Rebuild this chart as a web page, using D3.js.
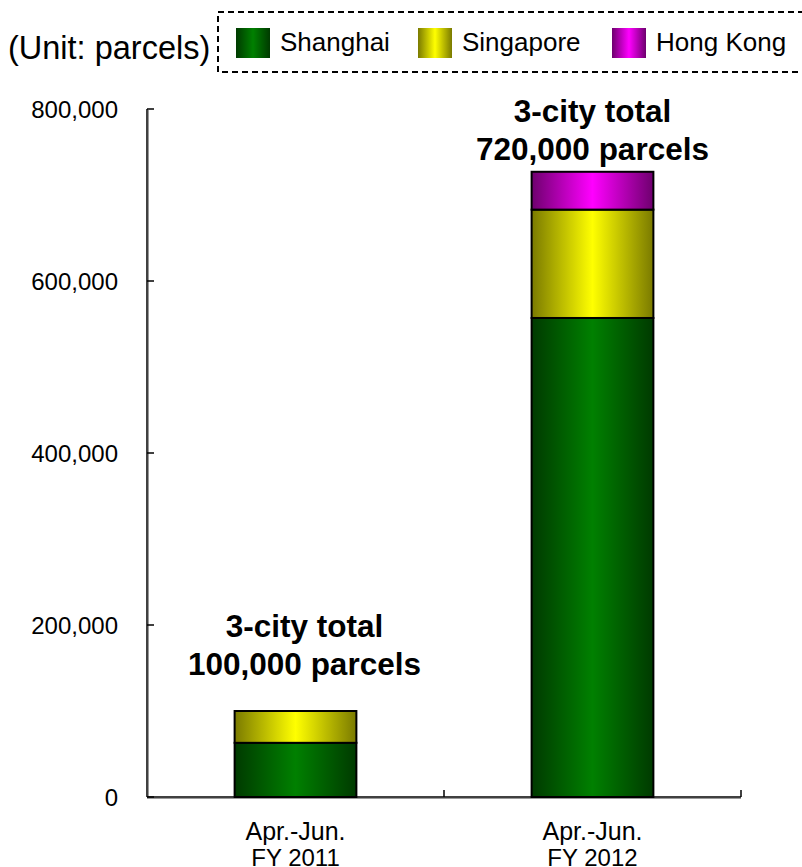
<!DOCTYPE html>
<html><head><meta charset="utf-8">
<script src="https://cdn.jsdelivr.net/npm/d3@7"></script>
<style>
html,body{margin:0;padding:0;background:#fff;}
svg{display:block;font-family:"Liberation Sans",Arial,sans-serif;}
</style></head>
<body><svg id="c" width="802" height="867"></svg>
<script>
const categories = ["FY 2011", "FY 2012"];
const categoryTop = ["Apr.-Jun.", "Apr.-Jun."];
const seriesNames = ["Shanghai", "Singapore", "Hong Kong"];
const shanghai = [63000, 557000];
const singapore = [37000, 126000];
const hongKong = [0, 44000];
const totalText = ["100,000 parcels", "720,000 parcels"];
const yTicks = [0, 200000, 400000, 600000, 800000];

const colors = [
  {mid:"#008000", edge:"#003a00"},
  {mid:"#ffff00", edge:"#7a7a00"},
  {mid:"#ff00ff", edge:"#6e006e"}
];

const svg = d3.select("#c");
const defs = svg.append("defs");
colors.forEach((c,i)=>{
  const g = defs.append("linearGradient").attr("id","g"+i).attr("x1","0%").attr("x2","100%").attr("y1","0%").attr("y2","0%");
  g.append("stop").attr("offset","0%").attr("stop-color",c.edge);
  g.append("stop").attr("offset","50%").attr("stop-color",c.mid);
  g.append("stop").attr("offset","100%").attr("stop-color",c.edge);
});

const x = d3.scaleBand().domain(categories).range([147, 741]).padding(0);
const y = d3.scaleLinear().domain([0, 800000]).range([797, 109]);
const barW = x.bandwidth() * 0.41;

const rows = categories.map((c,i)=>({cat:c, Shanghai:shanghai[i], Singapore:singapore[i], "Hong Kong":hongKong[i]}));
const stack = d3.stack().keys(seriesNames)(rows);

// bars
stack.forEach((layer, li)=>{
  svg.append("g").selectAll("rect").data(layer.filter(d=>d[1]-d[0]>0)).join("rect")
    .attr("x", d=>x(d.data.cat) + (x.bandwidth()-barW)/2)
    .attr("y", d=>y(d[1]))
    .attr("width", barW)
    .attr("height", d=>y(d[0])-y(d[1]))
    .attr("fill", "url(#g"+li+")")
    .attr("stroke", "#000").attr("stroke-width", 2);
});

// axes
const ax = svg.append("g");
ax.append("line").attr("x1",148.5).attr("x2",148.5).attr("y1",y(800000)+1).attr("y2",y(0)).attr("stroke","#999").attr("stroke-width",1);
ax.append("line").attr("x1",147).attr("x2",147).attr("y1",y(800000)).attr("y2",y(0)).attr("stroke","#000").attr("stroke-width",1.5);
ax.append("line").attr("x1",147).attr("x2",741).attr("y1",y(0)+1.5).attr("y2",y(0)+1.5).attr("stroke","#999").attr("stroke-width",1);
ax.append("line").attr("x1",147).attr("x2",741).attr("y1",y(0)).attr("y2",y(0)).attr("stroke","#000").attr("stroke-width",1.5);
yTicks.forEach(t=>{
  ax.append("line").attr("x1",147).attr("x2",154).attr("y1",y(t)).attr("y2",y(t)).attr("stroke","#000").attr("stroke-width",1.5);
  ax.append("text").attr("x",118).attr("y",y(t)+8.5).attr("text-anchor","end").attr("font-size",24).attr("fill","#000").text(d3.format(",")(t));
});
const bounds = categories.map(c=>x(c)+x.bandwidth());
bounds.forEach(b=>{
  ax.append("line").attr("x1",b).attr("x2",b).attr("y1",y(0)).attr("y2",y(0)-7).attr("stroke","#000").attr("stroke-width",1.5);
});
categories.forEach((c,i)=>{
  const cx = x(c)+x.bandwidth()/2;
  ax.append("text").attr("x",cx).attr("y",840).attr("text-anchor","middle").attr("font-size",25).text(categoryTop[i]);
  ax.append("text").attr("x",cx).attr("y",866).attr("text-anchor","middle").attr("font-size",24).text(c);
});

// total labels
rows.forEach((r,i)=>{
  const tot = shanghai[i]+singapore[i]+hongKong[i];
  const cx = x(r.cat)+x.bandwidth()/2 + (i===0?9:0);
  const base = y(tot) - (i===0?36:12);
  svg.append("text").attr("x",cx).attr("y",base-38).attr("text-anchor","middle").attr("font-size",31.5).attr("font-weight","bold").text("3-city total");
  svg.append("text").attr("x",cx).attr("y",base).attr("text-anchor","middle").attr("font-size",31.5).attr("font-weight","bold").text(totalText[i]);
});

// unit + legend
svg.append("text").attr("x",8).attr("y",59).attr("font-size",32.5).text("(Unit: parcels)");
svg.append("rect").attr("x",218).attr("y",12).attr("width",600).attr("height",60).attr("fill","none")
  .attr("stroke","#000").attr("stroke-width",2).attr("stroke-dasharray","6,4");
const legX = [236, 418, 612];
seriesNames.forEach((s,i)=>{
  svg.append("rect").attr("x",legX[i]).attr("y",28).attr("width",34).attr("height",30).attr("fill","url(#g"+i+")");
  svg.append("text").attr("x",legX[i]+44).attr("y",51).attr("font-size",26).text(s);
});
</script></body></html>
